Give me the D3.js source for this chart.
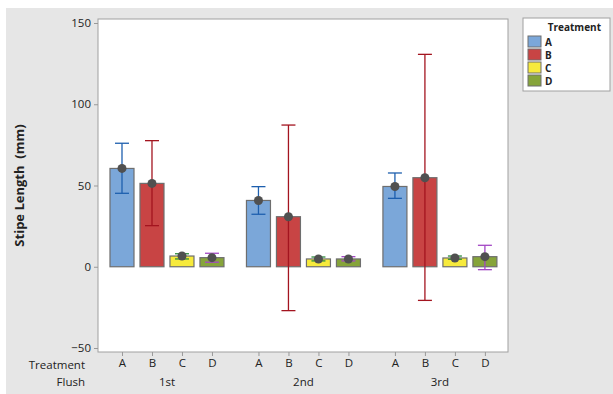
<!DOCTYPE html>
<html>
<head>
<meta charset="utf-8">
<script src="https://cdn.jsdelivr.net/npm/d3@7"></script>
<style>
  body { margin: 0; background: #fff; }
  text { font-family: "Open Sans", "Noto Sans", sans-serif; fill: #222; }
</style>
</head>
<body>
<script>
// data
var flushes = ['1st', '2nd', '3rd'];
var treatments = ['A', 'B', 'C', 'D'];
// mean, lower, upper per flush (rows) and treatment (cols)
var means = [[60.5, 51.3, 6.6, 5.6], [40.8, 30.8, 4.8, 4.8], [49.4, 54.8, 5.4, 6.2]];
var lows  = [[45.2, 25.3, 4.8, 2.8], [32.3, -27.0, 3.6, 3.6], [42.1, -20.7, 4.6, -1.8]];
var highs = [[76.0, 77.6, 8.0, 8.3], [49.3, 87.2, 6.0, 6.2], [57.7, 130.7, 6.6, 13.2]];
var yTicks = [-50, 0, 50, 100, 150];

var fills = {A: '#7ba7d9', B: '#c84444', C: '#f7ea3c', D: '#86a43a'};
var whisk = {A: '#1d5fae', B: '#a3141f', C: '#2b8a3c', D: '#a347c4'};

var W = 613, H = 394;
var svg = d3.select('body').append('svg').attr('width', W).attr('height', H);

svg.append('rect').attr('x', 6).attr('y', 8).attr('width', W - 6).attr('height', H - 8).attr('fill', '#e6e6e6');

var pLeft = 98, pRight = 508, pTop = 19, pBottom = 352;
var gap = 4.55; // slot distance between flush groups

var x = d3.scaleLinear().domain([-0.8, 2 * gap + 3 + 0.77]).range([pLeft, pRight]);
var y = d3.scaleLinear().domain([-50, 150]).range([348, 23]);

svg.append('rect').attr('x', pLeft).attr('y', pTop).attr('width', pRight - pLeft).attr('height', pBottom - pTop)
  .attr('fill', '#fff').attr('stroke', '#a0a0a0');

// y axis
var yAxis = d3.axisLeft(y).tickValues(yTicks).tickSize(4).tickPadding(3);
var gy = svg.append('g').attr('transform', 'translate(' + pLeft + ',0)').call(yAxis);
gy.select('.domain').remove();
gy.selectAll('line').attr('stroke', '#999');
gy.selectAll('text').style('font-size', '11.5px').attr('fill', '#222');

// flat rows of bars
var rows = [];
flushes.forEach(function (f, i) {
  treatments.forEach(function (t, j) {
    rows.push({f: f, t: t, slot: i * gap + j, m: means[i][j], lo: lows[i][j], hi: highs[i][j]});
  });
});

// x axis (treatment ticks)
var xAxis = d3.axisBottom(x).tickValues(rows.map(function (d) { return d.slot; }))
  .tickFormat(function (d, i) { return rows[i].t; }).tickSize(4).tickPadding(3);
var gx = svg.append('g').attr('transform', 'translate(0,' + pBottom + ')').call(xAxis);
gx.select('.domain').remove();
gx.selectAll('line').attr('stroke', '#999');
gx.selectAll('text').style('font-size', '11.5px').attr('fill', '#222');

// flush labels
svg.selectAll('text.flush').data(flushes).enter().append('text')
  .attr('class', 'flush')
  .attr('x', function (d, i) { return x(i * gap + 1.5); })
  .attr('y', 386).attr('text-anchor', 'middle').style('font-size', '11.5px')
  .text(function (d) { return d; });

svg.append('text').attr('x', 85).attr('y', 369).attr('text-anchor', 'end').style('font-size', '11.5px').text('Treatment');
svg.append('text').attr('x', 85).attr('y', 386).attr('text-anchor', 'end').style('font-size', '11.5px').text('Flush');

// y title
svg.append('text').attr('transform', 'translate(24,' + ((pTop + pBottom) / 2) + ') rotate(-90)')
  .attr('text-anchor', 'middle').style('font-size', '13px').style('font-weight', 'bold')
  .style('white-space', 'pre')
  .text('Stipe Length  (mm)');

var bw = 24;
var g = svg.append('g');
g.selectAll('rect.bar').data(rows).enter().append('rect')
  .attr('class', 'bar')
  .attr('x', function (d) { return x(d.slot) - bw / 2; })
  .attr('y', function (d) { return y(d.m); })
  .attr('width', bw)
  .attr('height', function (d) { return y(0) - y(d.m); })
  .attr('fill', function (d) { return fills[d.t]; })
  .attr('stroke', '#6e6e6e').attr('stroke-width', 1.2);

var cap = 7;
var eb = g.selectAll('g.eb').data(rows).enter().append('g').attr('class', 'eb')
  .attr('stroke', function (d) { return whisk[d.t]; }).attr('stroke-width', 1.3);
eb.append('line')
  .attr('x1', function (d) { return x(d.slot); }).attr('x2', function (d) { return x(d.slot); })
  .attr('y1', function (d) { return y(d.lo); }).attr('y2', function (d) { return y(d.hi); });
eb.append('line')
  .attr('x1', function (d) { return x(d.slot) - cap; }).attr('x2', function (d) { return x(d.slot) + cap; })
  .attr('y1', function (d) { return y(d.lo); }).attr('y2', function (d) { return y(d.lo); });
eb.append('line')
  .attr('x1', function (d) { return x(d.slot) - cap; }).attr('x2', function (d) { return x(d.slot) + cap; })
  .attr('y1', function (d) { return y(d.hi); }).attr('y2', function (d) { return y(d.hi); });

g.selectAll('circle').data(rows).enter().append('circle')
  .attr('cx', function (d) { return x(d.slot); })
  .attr('cy', function (d) { return y(d.m); })
  .attr('r', 4.5).attr('fill', '#505050');

// legend
var lg = svg.append('g');
lg.append('rect').attr('x', 523).attr('y', 18).attr('width', 87).attr('height', 73)
  .attr('fill', '#fff').attr('stroke', '#a0a0a0');
lg.append('text').attr('x', 601).attr('y', 31).attr('text-anchor', 'end')
  .style('font-size', '10px').style('font-weight', 'bold').text('Treatment');
var li = lg.selectAll('g.li').data(treatments).enter().append('g').attr('class', 'li')
  .attr('transform', function (d, i) { return 'translate(528,' + (36 + i * 13) + ')'; });
li.append('rect').attr('width', 13).attr('height', 11)
  .attr('fill', function (d) { return fills[d]; }).attr('stroke', '#6e6e6e');
li.append('text').attr('x', 17).attr('y', 9.5).style('font-size', '10px').style('font-weight', 'bold')
  .text(function (d) { return d; });
</script>
</body>
</html>
